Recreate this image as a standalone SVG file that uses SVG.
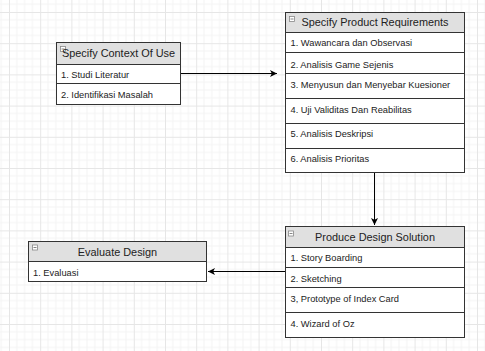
<svg xmlns="http://www.w3.org/2000/svg" width="485" height="351" viewBox="0 0 485 351">
<defs>
<pattern id="grid" patternUnits="userSpaceOnUse" x="9" y="12" width="31.2" height="31.2">
<path d="M7.8 0V31.2M15.6 0V31.2M23.4 0V31.2M0 7.8H31.2M0 15.6H31.2M0 23.4H31.2" stroke="#f3f3f3" stroke-width="1" fill="none"/>
<path d="M0.5 0V31.2M0 0.5H31.2" stroke="#e6e6e6" stroke-width="1" fill="none"/>
</pattern>
<marker id="arr" viewBox="0 0 8 8" refX="7" refY="4" markerWidth="8" markerHeight="8" markerUnits="userSpaceOnUse" orient="auto">
<path d="M0 0.5L7 4L0 7.5L1.8 4Z" fill="#000"/>
</marker>
</defs>
<style>
.box{fill:#fff;stroke:#333;stroke-width:1}
.hdr{fill:#e0e0e0;stroke:#333;stroke-width:1}
.sep{stroke:#333;stroke-width:1;fill:none}
.ht{font-family:"Liberation Sans",Arial,sans-serif;font-size:10.9px;fill:#222;text-anchor:middle}
.rt{font-family:"Liberation Sans",Arial,sans-serif;font-size:9.3px;fill:#222}
.ico{fill:#fff;stroke:#888;stroke-width:0.8}
.icm{stroke:#666;stroke-width:0.8}
.edge{stroke:#000;stroke-width:1;fill:none;marker-end:url(#arr)}
</style>
<rect width="485" height="351" fill="#fff"/>
<rect width="485" height="351" fill="url(#grid)"/>

<g id="connectors">
<path class="edge" d="M180.5 73.5H277"/>
<path class="edge" d="M374.5 172.5V225"/>
<path class="edge" d="M285.5 271.5H208"/>
</g>

<g id="specify-context">
<rect class="box" x="56.5" y="42.5" width="124" height="62"/>
<rect class="hdr" x="56.5" y="42.5" width="124" height="22"/>
<path class="sep" d="M56.5 83.5H180.5"/>
<rect class="ico" x="60.5" y="46.5" width="5" height="5"/>
<path class="icm" d="M61.5 49H64.5"/>
<text class="ht" x="118.5" y="57.1">Specify Context Of Use</text>
<text class="rt" x="61" y="77.6">1. Studi Literatur</text>
<text class="rt" x="61" y="98.3">2. Identifikasi Masalah</text>
</g>

<g id="specify-requirements">
<rect class="box" x="285.5" y="12.5" width="179" height="160"/>
<rect class="hdr" x="285.5" y="12.5" width="179" height="20"/>
<path class="sep" d="M285.5 52.5H464.5M285.5 73.5H464.5M285.5 98.5H464.5M285.5 123.5H464.5M285.5 148.5H464.5"/>
<rect class="ico" x="289.5" y="16.5" width="5" height="5"/>
<path class="icm" d="M290.5 19H293.5"/>
<text class="ht" x="375" y="26.1">Specify Product Requirements</text>
<text class="rt" x="290.5" y="46">1. Wawancara dan Observasi</text>
<text class="rt" x="290.5" y="67.6">2. Analisis Game Sejenis</text>
<text class="rt" x="290.5" y="87.6">3. Menyusun dan Menyebar Kuesioner</text>
<text class="rt" x="290.5" y="112.6">4. Uji Validitas Dan Reabilitas</text>
<text class="rt" x="290.5" y="137.3">5. Analisis Deskripsi</text>
<text class="rt" x="290.5" y="162.3">6. Analisis Prioritas</text>
</g>

<g id="evaluate-design">
<rect class="box" x="28.5" y="241.5" width="178" height="40"/>
<rect class="hdr" x="28.5" y="241.5" width="178" height="20"/>
<rect class="ico" x="32.5" y="245" width="5" height="5"/>
<path class="icm" d="M33.5 247.5H36.5"/>
<text class="ht" x="117.5" y="255.5">Evaluate Design</text>
<text class="rt" x="33" y="276">1. Evaluasi</text>
</g>

<g id="produce-design">
<rect class="box" x="285.5" y="226.5" width="179" height="111"/>
<rect class="hdr" x="285.5" y="226.5" width="179" height="21"/>
<path class="sep" d="M285.5 267.5H464.5M285.5 287.5H464.5M285.5 312.5H464.5"/>
<rect class="ico" x="288.5" y="231" width="5" height="5"/>
<path class="icm" d="M289.5 233.5H292.5"/>
<text class="ht" x="375" y="241">Produce Design Solution</text>
<text class="rt" x="290.5" y="260.6">1. Story Boarding</text>
<text class="rt" x="290.5" y="282">2. Sketching</text>
<text class="rt" x="290.5" y="302.3">3, Prototype of Index Card</text>
<text class="rt" x="290.5" y="327">4. Wizard of Oz</text>
</g>
</svg>
